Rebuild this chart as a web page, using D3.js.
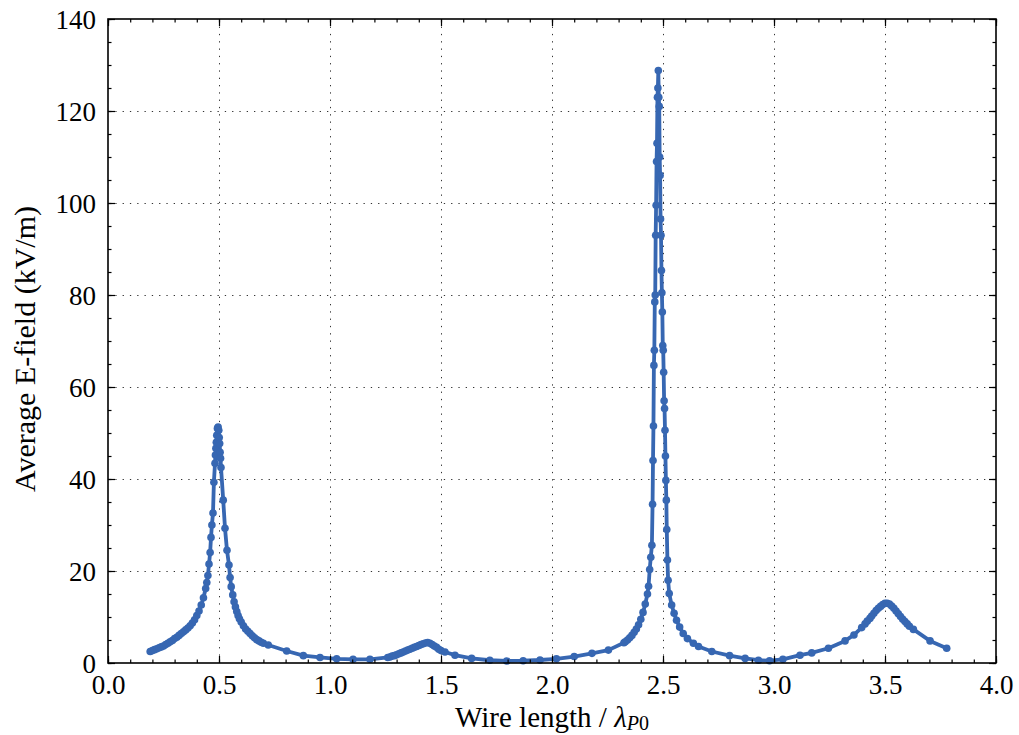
<!DOCTYPE html>
<html>
<head>
<meta charset="utf-8">
<script src="https://cdn.jsdelivr.net/npm/d3@7"></script>
<style>
  html, body { margin: 0; padding: 0; background: #fff; }
  svg { display: block; }
  text { font-family: "Liberation Serif", "DejaVu Serif", serif; fill: #000; }
</style>
</head>
<body>
<svg id="chart" width="1019" height="735"></svg>
<script>
// ---- data ----
const wireLength = [
  0.19,0.20,0.21,0.22,0.23,0.24,0.25,0.26,0.27,0.28,0.29,0.30,0.31,0.32,0.33,0.34,0.35,0.36,0.37,0.38,
  0.39,0.40,0.41,0.42,0.43,0.44,0.445,0.45,0.455,0.46,0.464,0.468,0.473,0.477,0.482,0.484,0.486,0.488,0.490,0.493,
  0.496,0.499,0.501,0.503,0.505,0.507,0.509,0.519,0.527,0.536,0.545,0.550,0.555,0.562,0.568,0.574,0.580,0.586,0.592,0.600,
  0.610,0.620,0.630,0.640,0.650,0.660,0.670,0.680,0.690,0.700,0.722,0.805,0.880,0.955,1.030,1.104,1.180,1.260,
  1.270,1.280,1.290,1.300,1.310,1.320,1.330,1.340,1.350,1.360,1.370,1.380,1.390,1.400,1.410,1.420,1.430,1.440,
  1.450,1.460,1.470,1.480,1.490,1.500,1.518,1.563,1.638,1.720,1.796,1.870,1.946,2.020,2.100,2.180,2.254,2.324,
  2.330,2.340,2.350,2.360,2.370,2.380,2.390,2.400,2.410,2.420,2.430,2.435,2.440,2.445,2.450,2.453,2.455,2.457,
  2.459,2.461,2.463,2.465,2.467,2.469,2.471,2.473,2.475,2.477,2.479,2.481,2.483,2.485,2.487,2.489,2.491,2.493,
  2.495,2.497,2.499,2.501,2.503,2.505,2.507,2.509,2.511,2.513,2.515,2.517,2.520,2.523,2.528,2.539,2.550,2.561,
  2.575,2.591,2.610,2.637,2.660,2.720,2.800,2.870,2.930,2.980,3.040,3.117,3.170,3.245,3.320,3.360,3.395,3.410,
  3.420,3.432,3.440,3.450,3.460,3.470,3.480,3.490,3.500,3.510,3.520,3.530,3.540,3.550,3.560,3.570,3.580,3.590,
  3.600,3.610,3.628,3.703,3.778
];
const eField = [
  2.5,2.7,2.9,3.1,3.3,3.5,3.7,4.0,4.3,4.6,4.9,5.3,5.6,6.0,6.4,6.8,7.2,7.6,8.1,8.7,
  9.4,10.3,11.3,12.6,14.2,16.2,17.5,19.0,21.5,24.0,27.3,30.0,32.6,39.3,43.4,45.2,46.7,48.0,49.5,51.0,
  51.3,50.6,49.0,47.7,45.8,44.5,42.5,35.4,29.3,24.5,21.3,18.6,16.6,14.8,13.3,12.2,11.2,10.3,9.6,8.9,
  8.1,7.4,6.9,6.4,5.9,5.5,5.1,4.8,4.5,4.3,3.9,2.6,1.6,1.2,0.9,0.8,0.8,1.2,
  1.3,1.5,1.6,1.8,2.0,2.2,2.4,2.6,2.8,3.0,3.2,3.4,3.6,3.8,4.0,4.2,4.35,4.45,
  4.3,4.0,3.7,3.4,3.0,2.7,2.4,1.7,1.0,0.6,0.45,0.5,0.65,0.9,1.4,2.1,2.8,4.4,
  4.6,5.0,5.5,6.0,6.7,7.4,8.3,9.5,11.0,12.8,15.0,16.7,20.3,23.0,25.6,34.5,44.0,51.5,
  64.7,68.0,78.5,80.0,93.0,99.5,109.0,113.0,123.0,125.0,128.8,123.0,121.0,110.0,106.0,96.5,93.0,85.3,
  80.5,76.3,69.0,68.0,63.2,57.0,55.3,50.6,45.0,39.7,35.4,29.0,22.4,18.0,15.1,12.6,10.8,9.3,
  7.8,6.4,5.3,4.3,3.6,2.5,1.6,1.0,0.6,0.5,0.8,1.7,2.2,3.2,4.8,6.1,7.7,8.5,
  9.1,9.7,10.2,10.8,11.4,11.9,12.3,12.7,13.0,13.0,12.8,12.4,11.9,11.3,10.7,10.1,9.5,9.0,
  8.5,8.0,7.3,4.8,3.2
];
const xTickValues = [0.0,0.5,1.0,1.5,2.0,2.5,3.0,3.5,4.0];
const yTickValues = [0,20,40,60,80,100,120,140];
const xMinorTicks = d3.range(0, 4.0001, 0.1);
const yMinorTicks = d3.range(0, 140.0001, 5);

// ---- layout ----
const W = 1019, H = 735;
const L = 108, R = 996, T = 19, B = 663;
const svg = d3.select("#chart");
const x = d3.scaleLinear().domain([0, 4]).range([L, R]);
const y = d3.scaleLinear().domain([0, 140]).range([B, T]);
const blue = "#3767b2";

// grid
const grid = svg.append("g").attr("stroke", "#333").attr("stroke-width", 1)
  .attr("stroke-dasharray", "1.3,6");
grid.selectAll("line.gx").data(xTickValues.slice(1, -1)).join("line")
  .attr("x1", d => Math.round(x(d)) + 0.5).attr("x2", d => Math.round(x(d)) + 0.5)
  .attr("y1", B).attr("y2", T);
grid.selectAll("line.gy").data(yTickValues.slice(1, -1)).join("line")
  .attr("y1", d => Math.round(y(d)) + 0.5).attr("y2", d => Math.round(y(d)) + 0.5)
  .attr("x1", L).attr("x2", R);

// data line + markers
const pts = wireLength.map((v, i) => [v, eField[i]]);
svg.append("path").datum(pts)
  .attr("fill", "none").attr("stroke", blue).attr("stroke-width", 3.8)
  .attr("stroke-linejoin", "round")
  .attr("d", d3.line().x(d => x(d[0])).y(d => y(d[1])));
svg.append("g").selectAll("circle").data(pts).join("circle")
  .attr("cx", d => x(d[0])).attr("cy", d => y(d[1])).attr("r", 3.8)
  .attr("fill", blue);

// axes with inward ticks on all four sides
function axisG(axisFn, scale, tickVals, size, transform, fmt) {
  const a = axisFn(scale).tickValues(tickVals).tickSizeInner(-size).tickSizeOuter(0);
  if (fmt) a.tickFormat(fmt); else a.tickFormat("");
  const g = svg.append("g").attr("transform", transform).call(a);
  g.select(".domain").remove();
  g.selectAll(".tick line").attr("stroke", "#000").attr("stroke-width", 1.2);
  return g;
}
// minor
axisG(d3.axisBottom, x, xMinorTicks, 3.5, `translate(0,${B})`);
axisG(d3.axisTop, x, xMinorTicks, 3.5, `translate(0,${T})`);
axisG(d3.axisLeft, y, yMinorTicks, 3.5, `translate(${L},0)`);
axisG(d3.axisRight, y, yMinorTicks, 3.5, `translate(${R},0)`);
// major
const gxb = axisG(d3.axisBottom, x, xTickValues, 7, `translate(0,${B})`, d3.format(".1f"));
axisG(d3.axisTop, x, xTickValues, 7, `translate(0,${T})`);
const gyl = axisG(d3.axisLeft, y, yTickValues, 7, `translate(${L},0)`, d3.format("d"));
axisG(d3.axisRight, y, yTickValues, 7, `translate(${R},0)`);

gxb.selectAll(".tick text").attr("font-size", 27).attr("y", 12).attr("dy", "0.71em")
  .style("font-family", "Liberation Serif");
gyl.selectAll(".tick text").attr("font-size", 27).attr("x", -12).attr("dy", "0.34em")
  .style("font-family", "Liberation Serif");

// frame
svg.append("rect").attr("x", L).attr("y", T).attr("width", R - L).attr("height", B - T)
  .attr("fill", "none").attr("stroke", "#000").attr("stroke-width", 1.6);

// axis labels
const xl = svg.append("text").attr("x", (L + R) / 2).attr("y", 727)
  .attr("text-anchor", "middle").attr("font-size", 29);
xl.append("tspan").text("Wire length / ");
xl.append("tspan").attr("font-style", "italic").text("λ");
xl.append("tspan").attr("font-size", 20).attr("dy", 3).attr("font-style", "italic").text("P");
xl.append("tspan").attr("font-size", 20).text("0");

svg.append("text")
  .attr("transform", `translate(35,${(T + B) / 2 + 8}) rotate(-90)`)
  .attr("text-anchor", "middle").attr("font-size", 30)
  .text("Average E-field (kV/m)");
</script>
</body>
</html>
